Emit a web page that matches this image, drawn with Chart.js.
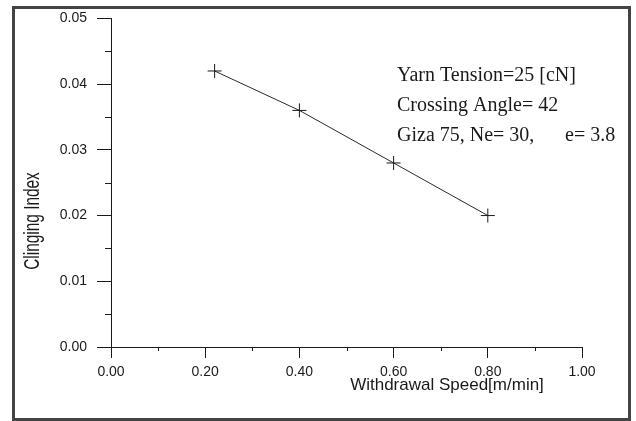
<!DOCTYPE html>
<html>
<head>
<meta charset="utf-8">
<script src="https://cdn.jsdelivr.net/npm/chart.js@4"></script>
<style>
  body { margin: 0; background: #fff; }
  canvas { display: block; }
</style>
</head>
<body>
<canvas id="myChart" width="636" height="421"></canvas>
<script>
const speed = [0.22, 0.40, 0.60, 0.80];
const clinging = [0.042, 0.036, 0.028, 0.020];
const notes = ["Yarn Tension=25 [cN]", "Crossing Angle= 42", "Giza 75, Ne= 30,", "e= 3.8"];
const xTitle = "Withdrawal Speed[m/min]";
const yTitle = "Clinging Index";

const ink = "#1a1a1a";

const isMajorX = (v) => Math.round(v * 10) % 2 === 0;
const isMajorY = (v) => Math.round(v * 1000) % 10 === 0;

// short minor ticks, frame and free text
const extras = {
  id: "extras",
  afterDraw(chart) {
    const ctx = chart.ctx;
    const xs = chart.scales.x;
    const ys = chart.scales.y;
    const area = chart.chartArea;
    ctx.save();
    ctx.strokeStyle = ink;
    ctx.lineWidth = 1;
    ctx.beginPath();
    xs.ticks.forEach((t) => {
      if (!isMajorX(t.value)) {
        const px = Math.round(xs.getPixelForValue(t.value)) + 0.5;
        ctx.moveTo(px, area.bottom);
        ctx.lineTo(px, area.bottom + 4);
      }
    });
    ys.ticks.forEach((t) => {
      if (!isMajorY(t.value)) {
        const py = Math.round(ys.getPixelForValue(t.value)) + 0.5;
        ctx.moveTo(area.left, py);
        ctx.lineTo(area.left - 6, py);
      }
    });
    ctx.stroke();

    // frame
    ctx.strokeStyle = "#444";
    ctx.lineWidth = 3;
    ctx.strokeRect(13.5, 7.5, 616, 412);

    // axis titles
    ctx.fillStyle = ink;
    ctx.textAlign = "center";
    ctx.textBaseline = "middle";
    ctx.font = "17px 'Liberation Sans', Arial, sans-serif";
    ctx.fillText(xTitle, 447, 385);
    ctx.save();
    ctx.translate(33, 221);
    ctx.rotate(-Math.PI / 2);
    ctx.scale(0.7, 1);
    ctx.font = "22px 'Liberation Sans', Arial, sans-serif";
    ctx.fillText(yTitle, 0, 0);
    ctx.restore();

    // notes
    ctx.textAlign = "left";
    ctx.font = "20px 'Liberation Serif', 'Times New Roman', serif";
    ctx.fillText(notes[0], 397, 76);
    ctx.fillText(notes[1], 397, 106);
    ctx.fillText(notes[2], 397, 136);
    ctx.fillText(notes[3], 565, 136);
    ctx.restore();
  }
};

new Chart("myChart", {
  type: "line",
  data: {
    datasets: [
      {
        data: speed.map((x, i) => ({ x: x, y: clinging[i] })),
        borderColor: "#2a2a2a",
        borderWidth: 1,
        pointStyle: "cross",
        pointRadius: 7,
        pointBorderWidth: 1,
        pointBorderColor: "#1a1a1a",
        fill: false,
        tension: 0,
      },
    ],
  },
  options: {
    responsive: false,
    animation: false,
    layout: {
      padding: { left: 12, top: 15, right: 54, bottom: 14 },
    },
    plugins: {
      legend: { display: false },
      tooltip: { enabled: false },
    },
    scales: {
      x: {
        type: "linear",
        min: 0,
        max: 1,
        afterFit(scale) {
          scale.height = 60;
        },
        ticks: {
          stepSize: 0.1,
          autoSkip: false,
          maxRotation: 0,
          padding: 6,
          color: ink,
          font: { family: "'Liberation Sans', Arial, sans-serif", size: 14 },
          callback: (v) => (isMajorX(v) ? v.toFixed(2) : ""),
        },
        grid: {
          drawOnChartArea: false,
          tickLength: 11,
          tickColor: (c) => (c.tick && isMajorX(c.tick.value) ? ink : "rgba(0,0,0,0)"),
        },
        border: { color: ink, width: 1 },
      },
      y: {
        min: 0,
        max: 0.05,
        afterFit(scale) {
          scale.width = 99;
        },
        ticks: {
          stepSize: 0.005,
          autoSkip: false,
          padding: 10,
          color: ink,
          font: { family: "'Liberation Sans', Arial, sans-serif", size: 14 },
          callback: (v) => (isMajorY(v) ? v.toFixed(2) : ""),
        },
        grid: {
          drawOnChartArea: false,
          tickLength: 14,
          tickColor: (c) => (c.tick && isMajorY(c.tick.value) ? ink : "rgba(0,0,0,0)"),
        },
        border: { color: ink, width: 1 },
      },
    },
  },
  plugins: [extras],
});
</script>
</body>
</html>
